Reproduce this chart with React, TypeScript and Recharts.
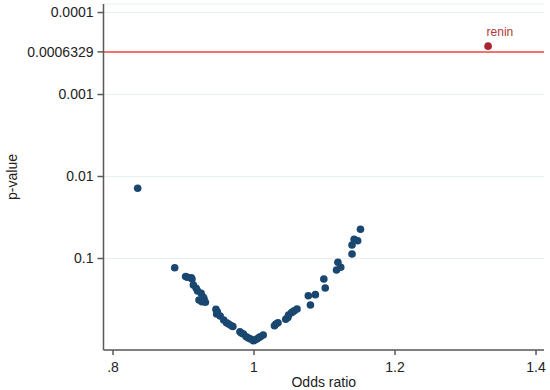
import {
  CartesianGrid,
  ReferenceLine,
  Scatter,
  ScatterChart,
  XAxis,
  YAxis,
  LabelList,
} from "recharts";

// odds ratio and -log10(p) for each protein
const oddsRatio = [
  0.835, 0.8875, 0.903, 0.9054, 0.911, 0.912, 0.914, 0.918, 0.92, 0.922,
  0.925, 0.926, 0.928, 0.931, 0.929, 0.946, 0.947, 0.948, 0.952, 0.957,
  0.961, 0.964, 0.968, 0.97, 0.98, 0.982, 0.985, 0.989, 0.992, 0.995,
  0.999, 1.001, 1.004, 1.007, 1.009, 1.013, 1.029, 1.031, 1.034, 1.045,
  1.048, 1.049, 1.053, 1.055, 1.057, 1.061, 1.077, 1.08, 1.087, 1.099,
  1.101, 1.117, 1.119, 1.123, 1.139, 1.139, 1.142, 1.147, 1.151,
];
const negLogP = [
  1.856, 0.888, 0.78, 0.771, 0.765, 0.75, 0.677, 0.637, 0.604, 0.494,
  0.576, 0.473, 0.527, 0.466, 0.51, 0.38, 0.323, 0.35, 0.298, 0.25,
  0.217, 0.2, 0.18, 0.17, 0.107, 0.09, 0.079, 0.046, 0.03, 0.018,
  -0.002, 0.005, 0.018, 0.035, 0.046, 0.067, 0.18, 0.2, 0.217, 0.259,
  0.28, 0.311, 0.339, 0.35, 0.363, 0.384, 0.546, 0.433, 0.559, 0.75,
  0.64, 0.86, 0.954, 0.893, 1.055, 1.165, 1.234, 1.217, 1.356,
];

const highlightName = ["renin"];
const highlightOR = [1.332];
const highlightY = [3.59];

const thresholdY = 3.52;
const yTickValues = [1, 2, 3, 3.52, 4];
const yTickLabels = ["0.1", "0.01", "0.001", "0.0006329", "0.0001"];
const xTickValues = [0.8, 1, 1.2, 1.4];
const xTickLabels = [".8", "1", "1.2", "1.4"];

const points = oddsRatio.map((x, i) => ({ x, y: negLogP[i] }));
const highlight = highlightOR.map((x, i) => ({
  x,
  y: highlightY[i],
  name: highlightName[i],
}));

const font = "'Liberation Sans', Arial, sans-serif";
const axisColor = "#595959";

const Dot = (color: string) => (props: any) =>
  <circle cx={props.cx} cy={props.cy} r={3.8} fill={color} />;

export default function App() {
  return (
    <div style={{ position: "absolute", left: 0, top: 0, fontFamily: font }}>
      <ScatterChart
        width={550}
        height={390}
        margin={{ top: 4, right: 6, bottom: 0, left: 0 }}
      >
        <CartesianGrid vertical={false} stroke="#e6eff1" strokeWidth={1} />
        <XAxis
          type="number"
          dataKey="x"
          domain={[0.7865, 1.4113]}
          ticks={xTickValues}
          tickFormatter={(v: number) => xTickLabels[xTickValues.indexOf(v)]}
          height={40}
          tickSize={5}
          tickMargin={7}
          stroke={axisColor}
          strokeWidth={1.5}
          tick={{ fill: "#222", fontSize: 14, fontFamily: font }}
          allowDataOverflow
          label={(p: any) => (
            <text
              x={p.viewBox.x + p.viewBox.width / 2}
              y={387}
              textAnchor="middle"
              fontSize={14}
              fontFamily={font}
              fill="#222"
            >
              Odds ratio
            </text>
          )}
        />
        <YAxis
          type="number"
          dataKey="y"
          domain={[-0.116, 4.104]}
          ticks={yTickValues}
          tickFormatter={(v: number) => yTickLabels[yTickValues.indexOf(v)]}
          width={103.5}
          tickSize={6}
          tickMargin={4}
          stroke={axisColor}
          strokeWidth={1.5}
          tick={{ fill: "#222", fontSize: 14, fontFamily: font }}
          allowDataOverflow
          interval={0}
          label={(p: any) => {
            const cx = 12;
            const cy = p.viewBox.y + p.viewBox.height / 2;
            return (
              <text
                x={cx}
                y={cy}
                transform={`rotate(-90 ${cx} ${cy})`}
                textAnchor="middle"
                dominantBaseline="central"
                fontSize={14}
                fontFamily={font}
                fill="#222"
              >
                p-value
              </text>
            );
          }}
        />
        <ReferenceLine y={thresholdY} stroke="#f2443f" strokeWidth={1.5} />
        <Scatter
          data={points}
          isAnimationActive={false}
          shape={Dot("#1a476f")}
        />
        <Scatter
          data={highlight}
          isAnimationActive={false}
          shape={Dot("#a8242f")}
        >
          <LabelList
            dataKey="name"
            content={(p: any) => (
              <text
                x={p.x + 3}
                y={p.y - 6}
                fontSize={12}
                fontFamily={font}
                fill="#b03a3a"
              >
                {p.value}
              </text>
            )}
          />
        </Scatter>
      </ScatterChart>
    </div>
  );
}
